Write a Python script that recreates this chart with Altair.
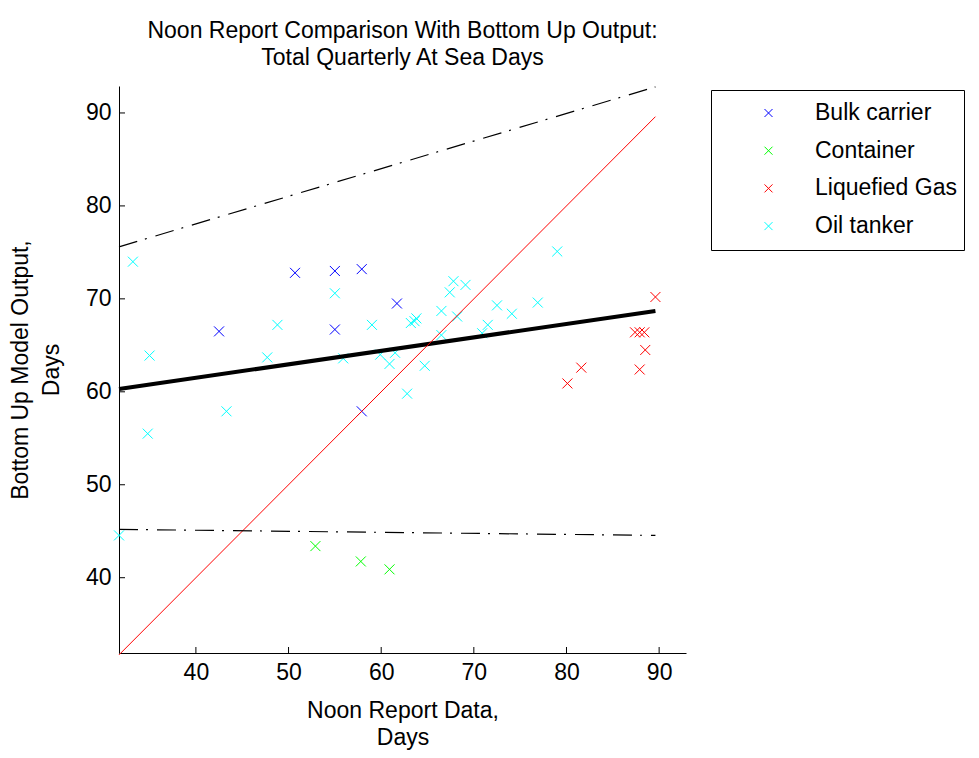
import altair as alt
import pandas as pd

# ---- data ----
categories = ["Bulk carrier", "Container", "Liquefied Gas", "Oil tanker"]
colors = ["#0000FF", "#00FF00", "#FF0000", "#00FFFF"]

bulk_x = [42.5, 50.7, 55.0, 55.0, 57.9, 57.9, 61.7]
bulk_y = [66.5, 72.8, 73.0, 66.7, 73.2, 57.9, 69.5]
container_x = [52.9, 57.8, 60.9]
container_y = [43.4, 41.75, 40.9]
gas_x = [80.1, 81.6, 87.4, 87.9, 88.4, 87.9, 88.5, 89.6]
gas_y = [60.9, 62.6, 66.4, 66.4, 66.4, 62.4, 64.5, 70.2]
tanker_x = [31.7, 33.2, 34.8, 35.0, 43.3, 47.7, 48.8, 55.0, 55.9, 59.0,
            59.9, 60.9, 61.5, 62.8, 63.2, 63.6, 63.8, 64.7, 66.5, 66.5,
            67.4, 67.8, 68.2, 69.1, 70.9, 71.5, 72.5, 74.1, 76.9, 79.0]
tanker_y = [44.55, 74.0, 55.5, 63.9, 57.9, 63.7, 67.2, 70.6, 63.6, 67.2,
            64.0, 63.0, 64.2, 59.8, 67.4, 67.6, 67.9, 62.8, 68.7, 66.1,
            70.7, 71.9, 68.1, 71.5, 66.3, 67.2, 69.3, 68.4, 69.6, 75.1]

line_x = [31.7, 89.6]
identity_y = [31.7, 89.6]
fit_y = [60.3, 68.7]
upper_y = [75.6, 92.8]
lower_y = [45.2, 44.55]

tick_values = [40, 50, 60, 70, 80, 90]
x_domain = [31.7, 92.9]
y_domain = [31.9, 92.9]

# ---- tables ----
rows = []
for cat, xs, ys in zip(categories,
                       [bulk_x, container_x, gas_x, tanker_x],
                       [bulk_y, container_y, gas_y, tanker_y]):
    for a, b in zip(xs, ys):
        rows.append({"x": a, "y": b, "type": cat})
points_df = pd.DataFrame(rows)

def line_df(ys):
    return pd.DataFrame({"x": line_x, "y": ys})

ticks_df = pd.DataFrame({"x": tick_values, "y": tick_values})

FONT = "Liberation Sans"
FS = 23
XSHAPE = "M-1,-1L1,1M-1,1L1,-1"

xs = alt.Scale(domain=x_domain, nice=False, zero=False)
ys = alt.Scale(domain=y_domain, nice=False, zero=False)
xaxis = alt.Axis(values=tick_values, title=["Noon Report Data,", "Days"],
                 ticks=False, grid=False, labelPadding=8, titlePadding=15,
                 domainColor="black", labelColor="black", titleColor="black",
                 labelFontSize=FS, titleFontSize=FS, labelFont=FONT, titleFont=FONT,
                 titleFontWeight="normal", titleLineHeight=27)
yaxis = alt.Axis(values=tick_values, title=["Bottom Up Model Output,", "Days"],
                 ticks=False, grid=False, labelPadding=8, titlePadding=22,
                 domainColor="black", labelColor="black", titleColor="black",
                 labelFontSize=FS, titleFontSize=FS, labelFont=FONT, titleFont=FONT,
                 titleFontWeight="normal", titleLineHeight=31)
X = alt.X("x:Q", scale=xs, axis=xaxis)
Y = alt.Y("y:Q", scale=ys, axis=yaxis)

pts = alt.Chart(points_df).mark_point(
    shape=XSHAPE, filled=False, size=100, strokeWidth=1, opacity=1
).encode(
    x=X, y=Y,
    color=alt.Color("type:N", scale=alt.Scale(domain=categories, range=colors),
                    legend=alt.Legend(
                        title=None, orient="none", legendX=592, legendY=4,
                        symbolType=XSHAPE, symbolSize=64, symbolStrokeWidth=1,
                        symbolOffset=39, labelOffset=35, clipHeight=32, rowPadding=5.7,
                        padding=7, strokeColor="black", fillColor="white",
                        labelFont=FONT, labelFontSize=FS, labelColor="black",
                        labelLimit=400)),
)

fit = alt.Chart(line_df(fit_y)).mark_line(color="black", strokeWidth=4).encode(x=X, y=Y)
ident = alt.Chart(line_df(identity_y)).mark_line(color="#FF0000", strokeWidth=1).encode(x=X, y=Y)
upper = alt.Chart(line_df(upper_y)).mark_line(
    color="black", strokeWidth=1.2, strokeDash=[19, 8, 2, 9]).encode(x=X, y=Y)
lower = alt.Chart(line_df(lower_y)).mark_line(
    color="black", strokeWidth=1.2, strokeDash=[19, 8, 2, 9]).encode(x=X, y=Y)

xticks = alt.Chart(ticks_df).mark_rule(color="black", strokeWidth=1).encode(
    x=X, y=alt.value(567), y2=alt.value(561))
yticks = alt.Chart(ticks_df).mark_rule(color="black", strokeWidth=1).encode(
    y=Y, x=alt.value(0), x2=alt.value(6))

chart = alt.layer(pts, fit, ident, upper, lower, xticks, yticks).properties(
    width=567, height=567,
    padding={"left": 111, "top": 78, "right": 285, "bottom": 97},
    autosize="none",
    title=alt.TitleParams(
        ["Noon Report Comparison With Bottom Up Output:", "Total Quarterly At Sea Days"],
        font=FONT, fontSize=FS, fontWeight="normal", color="black",
        anchor="middle", offset=15, lineHeight=27),
).configure(background="white").configure_view(stroke=None)

chart.save("out.html", embed_options={"renderer": "svg", "actions": False})
